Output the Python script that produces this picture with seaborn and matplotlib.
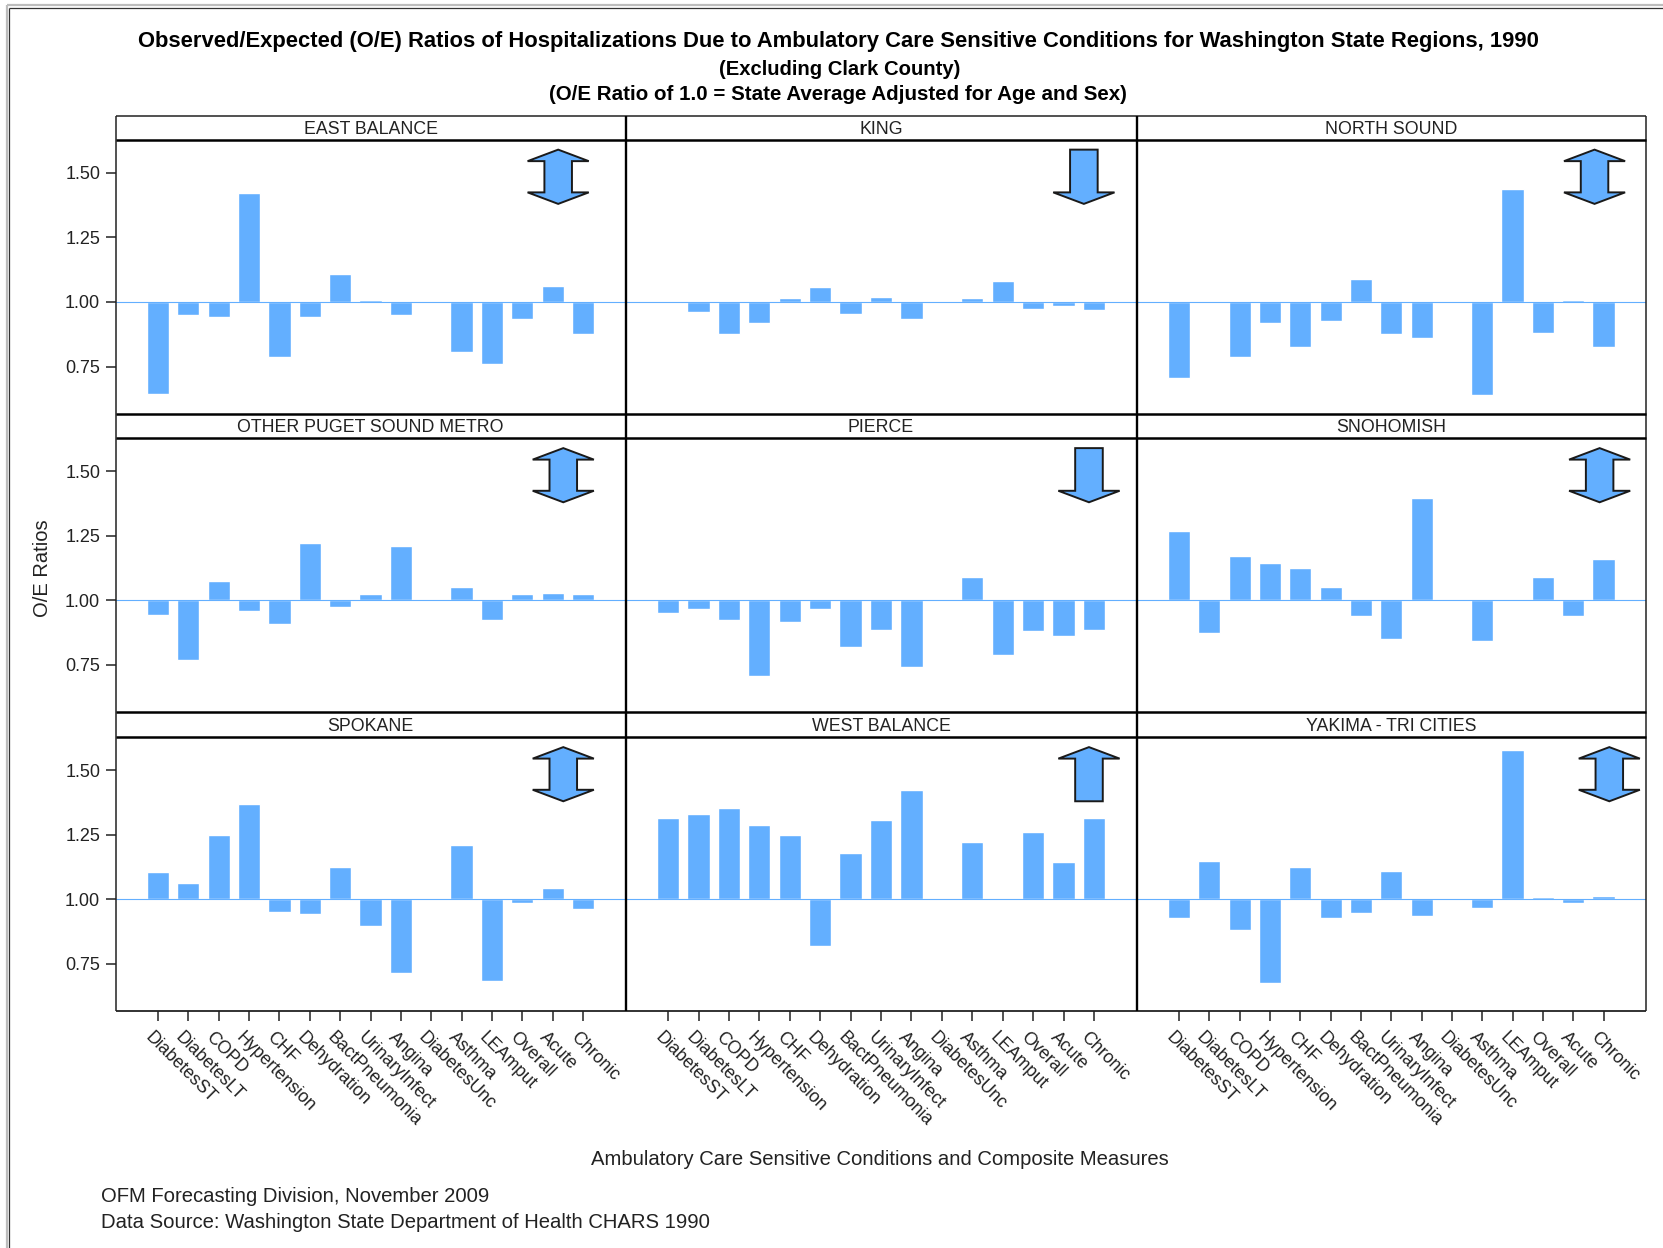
import matplotlib
matplotlib.use("Agg")
import matplotlib.pyplot as plt
from matplotlib.patches import Polygon
from matplotlib.lines import Line2D
from matplotlib.transforms import ScaledTranslation
import pandas as pd
import seaborn as sns

W, H = 1663, 1248

conditions = ["DiabetesST", "DiabetesLT", "COPD", "Hypertension", "CHF", "Dehydration",
              "BactPneumonia", "UrinaryInfect", "Angina", "DiabetesUnc", "Asthma",
              "LEAmput", "Overall", "Acute", "Chronic"]

east_balance = [0.645, 0.950, 0.943, 1.422, 0.787, 0.943, 1.110, 1.007, 0.948, 1.0, 0.808, 0.762, 0.933, 1.060, 0.875]
king = [1.0, 0.963, 0.875, 0.918, 1.015, 1.056, 0.953, 1.021, 0.936, 1.0, 1.015, 1.083, 0.973, 0.983, 0.968]
north_sound = [0.708, 1.0, 0.787, 0.918, 0.827, 0.928, 1.088, 0.875, 0.862, 1.0, 0.640, 1.435, 0.882, 1.006, 0.825]
other_puget = [0.944, 0.770, 1.073, 0.960, 0.906, 1.222, 0.972, 1.023, 1.208, 1.0, 1.051, 0.922, 1.023, 1.028, 1.023]
pierce = [0.952, 0.967, 0.922, 0.706, 0.917, 0.967, 0.820, 0.886, 0.741, 1.0, 1.088, 0.786, 0.881, 0.861, 0.886]
snohomish = [1.266, 0.873, 1.171, 1.143, 1.126, 1.051, 0.940, 0.848, 1.397, 1.0, 0.841, 1.0, 1.088, 0.940, 1.158]
spokane = [1.104, 1.063, 1.249, 1.368, 0.952, 0.942, 1.126, 0.896, 0.716, 1.0, 1.208, 0.684, 0.987, 1.044, 0.962]
west_balance = [1.314, 1.331, 1.352, 1.287, 1.249, 0.820, 1.180, 1.307, 1.421, 1.0, 1.221, 1.0, 1.262, 1.144, 1.314]
yakima = [0.926, 1.147, 0.881, 0.676, 1.126, 0.926, 0.947, 1.111, 0.935, 1.0, 0.967, 1.578, 1.007, 0.987, 1.011]

regions = ["EAST BALANCE", "KING", "NORTH SOUND", "OTHER PUGET SOUND METRO", "PIERCE",
           "SNOHOMISH", "SPOKANE", "WEST BALANCE", "YAKIMA - TRI CITIES"]
series = [east_balance, king, north_sound, other_puget, pierce, snohomish, spokane, west_balance, yakima]
directions = ["both", "down", "both", "both", "down", "both", "both", "up", "both"]
arrow_x = [0.868, 0.897, 0.899, 0.878, 0.907, 0.909, 0.878, 0.907, 0.928]

yticks = [0.75, 1.00, 1.25, 1.50]
BLUE = "#63AFFF"
INK = "#222222"

# panel edges in pixels
xs = [115.5, 625.5, 1136.5, 1646]
rows = [(115.5, 139.5, 413.5), (413.5, 438, 711.5), (711.5, 737, 1010.5)]

sns.set_theme(style="white")
plt.rcParams["font.family"] = ["Liberation Sans", "DejaVu Sans"]
fig = plt.figure(figsize=(W / 100, H / 100), dpi=100)


def px_rect(x0, x1, top, bottom):
    return [x0 / W, 1 - bottom / H, (x1 - x0) / W, (bottom - top) / H]


def draw_arrow(ax, cx, kind):
    # arrow sizes in axes fractions
    top, bot = 0.963, 0.765
    hw, sw = 0.060, 0.027
    hd = 0.042
    pts = []
    if kind in ("up", "both"):
        pts += [(cx - sw, top - hd), (cx - hw, top - hd), (cx, top), (cx + hw, top - hd), (cx + sw, top - hd)]
    else:
        pts += [(cx - sw, top), (cx + sw, top)]
    if kind in ("down", "both"):
        pts += [(cx + sw, bot + hd), (cx + hw, bot + hd), (cx, bot), (cx - hw, bot + hd), (cx - sw, bot + hd)]
    else:
        pts += [(cx + sw, bot), (cx - sw, bot)]
    ax.add_patch(Polygon(pts, closed=True, transform=ax.transAxes, fc=BLUE, ec="#1a1a1a", lw=1.4, zorder=5))


for i, region in enumerate(regions):
    r, c = divmod(i, 3)
    head_top, plot_top, plot_bot = rows[r]
    ax = fig.add_axes(px_rect(xs[c], xs[c + 1], plot_top, plot_bot))
    df = pd.DataFrame({"condition": conditions, "diff": [v - 1 for v in series[i]]})
    sns.barplot(data=df, x="condition", y="diff", color=BLUE, saturation=1, width=0.73,
                bottom=1.0, ax=ax)
    ax.axhline(1.0, color=BLUE, lw=0.8, zorder=1)
    ax.set_xlim(-1.4, 15.4)
    ax.set_ylim(0.569, 1.628)
    ax.set_xlabel("")
    ax.set_ylabel("")
    ax.set_yticks(yticks)
    ax.set_yticklabels([f"{t:.2f}" for t in yticks] if c == 0 else [])
    ax.tick_params(axis="y", left=c == 0, length=7, width=1.1, color=INK, labelsize=13, pad=4,
                   labelcolor=INK)
    if r == 2:
        ax.set_xticks(range(len(conditions)))
        ax.set_xticklabels(conditions, rotation=-45, ha="left", va="top", rotation_mode="anchor")
        ax.tick_params(axis="x", bottom=True, length=7, width=1.1, color=INK, labelsize=12.8, pad=6,
                       labelcolor=INK)
        shift = ScaledTranslation(-3 / 72, 0, fig.dpi_scale_trans)
        for lab in ax.get_xticklabels():
            lab.set_transform(lab.get_transform() + shift)
    else:
        ax.set_xticks([])
    for s in ax.spines.values():
        s.set_visible(False)
    draw_arrow(ax, arrow_x[i], directions[i])

    fig.text((xs[c] + xs[c + 1]) / 2 / W, 1 - ((head_top + plot_top) / 2 + 2) / H, region,
             ha="center", va="center", fontsize=12.8, color=INK)


def fig_line(x0, y0, x1, y1, lw, color="black"):
    fig.add_artist(Line2D([x0 / W, x1 / W], [1 - y0 / H, 1 - y1 / H], color=color, lw=lw,
                          solid_capstyle="butt"))


# panel dividers and outlines
fig_line(xs[0], rows[0][0], xs[3], rows[0][0], 1.1, INK)
fig_line(xs[0], rows[2][2], xs[3], rows[2][2], 1.3, INK)
fig_line(xs[0], rows[0][0], xs[0], rows[2][2], 1.1, INK)
fig_line(xs[3], rows[0][0], xs[3], rows[2][2], 1.1, INK)
for x in xs[1:3]:
    fig_line(x, rows[0][0], x, rows[2][2], 1.7)
for head_top, plot_top, plot_bot in rows:
    fig_line(xs[0], plot_top, xs[3], plot_top, 1.8)
    if head_top > rows[0][0]:
        fig_line(xs[0], head_top, xs[3], head_top, 1.8)

# page frame
fig_line(7, 5, W, 5, 1.6, "#bdbdbd")
fig_line(7, 5, 7, H, 1.6, "#bdbdbd")
fig_line(9, 7.5, W, 7.5, 0.9, "#333333")
fig_line(9, 7.5, 9, H, 0.9, "#333333")

fig.text(790.5 / 1568, 1 - 39.5 / 1177, "Observed/Expected (O/E) Ratios of Hospitalizations Due to Ambulatory Care Sensitive Conditions for Washington State Regions, 1990",
         ha="center", va="center", fontsize=15.85, fontweight="bold", color="black")
fig.text(791.5 / 1568, 1 - 65.5 / 1177, "(Excluding Clark County)", ha="center", va="center",
         fontsize=14.6, fontweight="bold", color="black")
fig.text(790.5 / 1568, 1 - 89.5 / 1177, "(O/E Ratio of 1.0 = State Average Adjusted for Age and Sex)",
         ha="center", va="center", fontsize=14.75, fontweight="bold", color="black")
fig.text(40.5 / 1568, 1 - 536 / 1177, "O/E Ratios", rotation=90, ha="center", va="center", fontsize=14.5, color=INK)
fig.text(829.5 / 1568, 1 - 1093.5 / 1177, "Ambulatory Care Sensitive Conditions and Composite Measures",
         ha="center", va="center", fontsize=14.55, color=INK)
fig.text(95 / 1568, 1 - 1128.5 / 1177, "OFM Forecasting Division, November 2009", ha="left", va="center",
         fontsize=14.55, color=INK)
fig.text(95 / 1568, 1 - 1152.5 / 1177, "Data Source: Washington State Department of Health CHARS 1990", ha="left", va="center",
         fontsize=14.6, color=INK)

fig.savefig("out.png", dpi=100, facecolor="white")
